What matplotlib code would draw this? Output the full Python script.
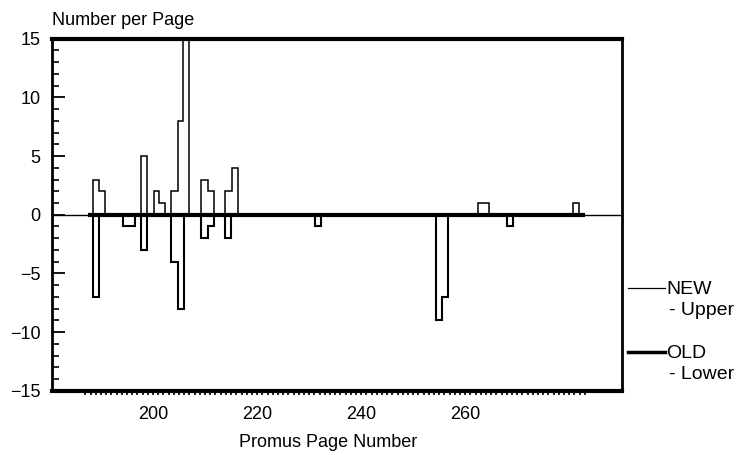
import numpy as np
import matplotlib.pyplot as plt
from matplotlib.lines import Line2D

plt.rcParams['font.family'] = ['Liberation Sans', 'DejaVu Sans']

# bar left edges (page number) and counts
bin_width = 1.154

new_left = [188.5, 189.7, 197.7, 200.1, 201.2, 203.5, 204.7, 205.8,
            209.3, 210.5, 213.9, 215.1, 262.4, 263.5, 280.8]
new_counts = [3, 2, 5, 2, 1, 2, 8, 18, 3, 2, 2, 4, 1, 1, 1]

old_left = [188.5, 194.3, 195.4, 197.7, 203.5, 204.7, 209.3, 210.5,
            213.9, 231.2, 254.3, 255.5, 268.1]
old_counts = [7, 1, 1, 3, 4, 8, 2, 1, 2, 1, 9, 7, 1]

# pages covered by the OLD listing (thick base line) and by the tick marks
old_span = [187.5, 283.1]
tick_pages = np.arange(187, 284)

x_ticks = [200, 220, 240, 260]
y_ticks = [-15, -10, -5, 0, 5, 10, 15]


def draw_steps(ax, lefts, counts, sign, lw):
    # join touching bars so that they are drawn as one outline
    group_l, group_c = [lefts[0]], [counts[0]]
    for l, c in list(zip(lefts[1:], counts[1:])) + [(None, None)]:
        if l is not None and l - group_l[-1] < 1.5 * bin_width:
            group_l.append(l)
            group_c.append(c)
            continue
        edges = group_l + [group_l[-1] + bin_width]
        ax.stairs(sign * np.array(group_c), edges, baseline=0, color='black', lw=lw)
        if l is not None:
            group_l, group_c = [l], [c]


fig = plt.figure(figsize=(7.48, 4.55), dpi=100)
ax = fig.add_axes([0.069, 0.141, 0.763, 0.774])

ax.axhline(0, color='black', lw=1.0)
ax.hlines(0, old_span[0], old_span[1], color='black', lw=3.0)
draw_steps(ax, new_left, new_counts, 1, 1.1)
draw_steps(ax, old_left, old_counts, -1, 1.5)

ax.set_xlim(180.5, 290.2)
ax.set_ylim(-15, 15)
ax.set_xticks(x_ticks)
ax.set_xticks(tick_pages, minor=True)
ax.set_yticks(y_ticks)
ax.set_yticks(np.arange(-15, 16), minor=True)
ax.tick_params(axis='y', which='major', direction='in', length=9.5, width=1.3, labelsize=13, pad=8)
ax.tick_params(axis='y', which='minor', direction='in', length=4.8, width=1.2)
ax.tick_params(axis='x', which='both', direction='out', length=3.2, width=1.2, labelsize=13, pad=8)

ax.spines['top'].set_linewidth(3)
ax.spines['bottom'].set_linewidth(3)
ax.spines['left'].set_linewidth(2)
ax.spines['right'].set_linewidth(2)

ax.set_xlabel('Promus Page Number', fontsize=13)
ax.xaxis.set_label_coords(0.4845, -0.122)
fig.text(0.070, 0.955, 'Number per Page', fontsize=13, ha='left', va='center')

# legend on the right, outside the frame
fig.add_artist(Line2D([0.840, 0.889], [0.367, 0.367], color='black', lw=0.9))
fig.text(0.891, 0.363, 'NEW', fontsize=14, ha='left', va='center')
fig.text(0.895, 0.317, '- Upper', fontsize=14, ha='left', va='center')
fig.add_artist(Line2D([0.840, 0.889], [0.226, 0.226], color='black', lw=2.5))
fig.text(0.891, 0.222, 'OLD', fontsize=14, ha='left', va='center')
fig.text(0.895, 0.176, '- Lower', fontsize=14, ha='left', va='center')

fig.savefig('out.png', dpi=100)
